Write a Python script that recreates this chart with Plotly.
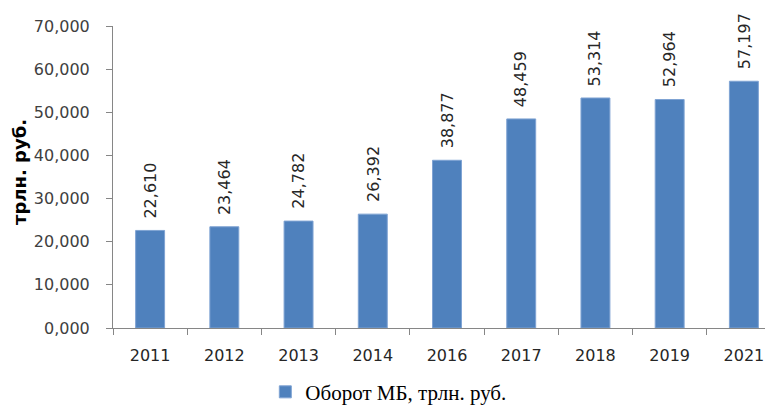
import plotly.graph_objects as go

years = ["2011", "2012", "2013", "2014", "2016", "2017", "2018", "2019", "2021"]
turnover = [22.610, 23.464, 24.782, 26.392, 38.877, 48.459, 53.314, 52.964, 57.197]
y_ticks = [0, 10, 20, 30, 40, 50, 60, 70]
series_name = "Оборот МБ, трлн. руб."
y_title = "трлн. руб."


def ru(v):
    return f"{v:.3f}".replace(".", ",")


fig = go.Figure()
fig.add_trace(go.Bar(
    x=years, y=turnover, name=series_name,
    marker=dict(color="#4F81BD", line=dict(color="#7FA3D3", width=1)),
    width=0.39, showlegend=True,
))

for i, v in enumerate(turnover):
    fig.add_annotation(
        x=i, y=v, text=ru(v), textangle=-90, showarrow=False,
        xref="x", yref="y",
        xanchor="center", yanchor="bottom", yshift=10,
        font=dict(family="DejaVu Sans", size=16, color="#262626"),
    )

fig.add_annotation(
    xref="paper", yref="paper", x=-0.139, y=0.517, text=y_title,
    textangle=-90, showarrow=False, xanchor="center", yanchor="middle",
    font=dict(family="DejaVu Sans", size=18, color="#000000", weight="bold"),
)

fig.update_layout(
    width=773, height=407,
    margin=dict(l=105, r=0, t=18, b=87),
    paper_bgcolor="white", plot_bgcolor="white",
    font=dict(family="DejaVu Sans", size=16, color="#404040"),
    xaxis=dict(
        type="category", range=[-0.5, 8.5], automargin=False,
        showline=True, linecolor="#868686", linewidth=1,
        ticks="outside", tickson="boundaries", ticklen=6, tickcolor="#868686",
        showgrid=False, tickfont=dict(size=16, color="#262626"),
        ticklabelstandoff=13,
    ),
    yaxis=dict(
        range=[0, 70], tickvals=y_ticks, ticktext=[ru(t) for t in y_ticks],
        automargin=False,
        showline=True, linecolor="#868686", linewidth=1,
        ticks="outside", ticklen=6, tickcolor="#868686",
        showgrid=False, zeroline=False,
        tickfont=dict(size=16, color="#404040"),
        ticklabelstandoff=13,
    ),
    legend=dict(
        orientation="h", xref="container", yref="container",
        x=0.492, xanchor="center", y=0.056, yanchor="middle",
        font=dict(family="Liberation Serif", size=21, color="#000000"),
    ),
    bargap=0.6,
)

fig.write_html("out.html")
